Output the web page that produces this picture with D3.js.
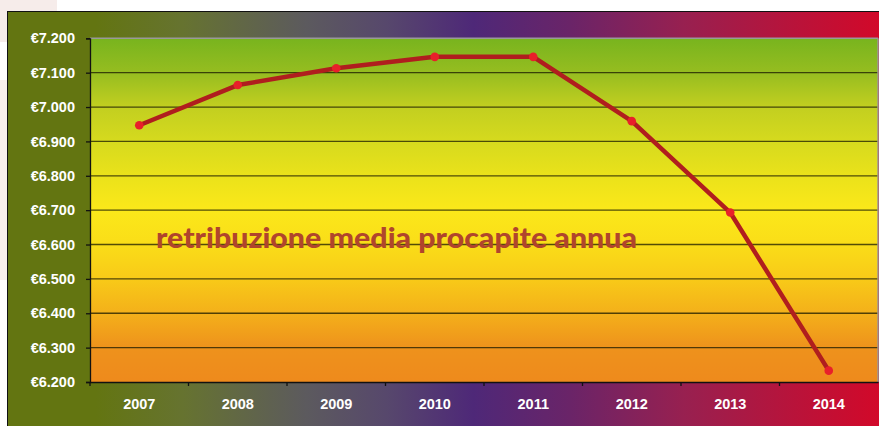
<!DOCTYPE html>
<html><head><meta charset="utf-8">
<script src="https://cdn.jsdelivr.net/npm/d3@7"></script>
<style>html,body{margin:0;padding:0;background:#fff;overflow:hidden}</style>
</head><body>
<script>
const years = ["2007","2008","2009","2010","2011","2012","2013","2014"];
const values = [6947, 7064, 7113, 7146, 7146, 6959, 6693, 6233];
const yTicks = [6200,6300,6400,6500,6600,6700,6800,6900,7000,7100,7200];
const title = "retribuzione media procapite annua";

const W = 879, H = 426;
const svg = d3.select("body").append("svg").attr("width", W).attr("height", H);
const defs = svg.append("defs");

// frame gradient
const fg = defs.append("linearGradient").attr("id","fg").attr("x1","0").attr("x2","1").attr("y1","0").attr("y2","0");
[[0,"#637511"],[0.1,"#637511"],[0.2,"#667330"],[0.34,"#5c5a5e"],[0.43,"#57486c"],[0.53,"#4e2878"],[0.64,"#6a2468"],[0.77,"#982050"],[1,"#d40828"]]
  .forEach(([o,c])=>fg.append("stop").attr("offset",o).attr("stop-color",c));

// faint decoration
svg.append("rect").attr("x",0).attr("y",0).attr("width",57).attr("height",11).attr("fill","#f6ecea");
svg.append("rect").attr("x",0).attr("y",0).attr("width",7).attr("height",42).attr("fill","#f6ecea");
svg.append("rect").attr("x",0).attr("y",80).attr("width",7).attr("height",200).attr("fill","#f8efee");

svg.append("rect").attr("x",7.5).attr("y",11.5).attr("width",W).attr("height",H)
  .attr("fill","url(#fg)").attr("stroke","#111").attr("stroke-width",1);

const m = {l:90, r:878, t:38.3, b:382};
const x = d3.scaleBand().domain(years).range([m.l, m.r]);
const y = d3.scaleLinear().domain([6200,7200]).range([m.b, m.t]);

// plot gradient
const pg = defs.append("linearGradient").attr("id","pg").attr("x1","0").attr("x2","0").attr("y1","0").attr("y2","1");
[[0,"#78b41e"],[0.1,"#96bd20"],[0.2,"#c2cf20"],[0.3,"#d6da1e"],[0.4,"#eae21a"],[0.5,"#fbe81a"],[0.6,"#fadd18"],[0.7,"#f8ca18"],[0.8,"#f4b01a"],[0.9,"#ee921c"],[1,"#ee8a1c"]]
  .forEach(([o,c])=>pg.append("stop").attr("offset",o).attr("stop-color",c));

svg.append("rect").attr("x",m.l).attr("y",m.t).attr("width",m.r-m.l).attr("height",m.b-m.t)
  .attr("fill","url(#pg)");

// grid lines
svg.append("g").selectAll("line").data(yTicks.slice(1,-1)).join("line")
  .attr("x1",m.l).attr("x2",m.r).attr("y1",d=>y(d)).attr("y2",d=>y(d))
  .attr("stroke","#1a1a00").attr("stroke-opacity",0.75).attr("stroke-width",1.3);

// borders
svg.append("line").attr("x1",m.l).attr("x2",m.r).attr("y1",m.t).attr("y2",m.t).attr("stroke","#999").attr("stroke-width",1.5);
svg.append("line").attr("x1",m.r).attr("x2",m.r).attr("y1",m.t).attr("y2",m.b).attr("stroke","#999").attr("stroke-width",1.5);

// y axis
const ya = svg.append("g").attr("transform",`translate(${m.l},0)`)
  .call(d3.axisLeft(y).tickValues(yTicks).tickSize(4).tickPadding(11)
    .tickFormat(d=>"€"+d3.format(",")(d).replace(",",".")));
ya.select(".domain").attr("stroke","#111").attr("stroke-width",1.3);
ya.selectAll(".tick line").attr("stroke","#111").attr("stroke-width",1.3);
ya.selectAll("text").attr("fill","#fff").attr("font-family","Liberation Sans, Arial, sans-serif")
  .attr("font-weight","bold").attr("font-size",14.5);

// x axis
const xa = svg.append("g").attr("transform",`translate(0,${m.b})`)
  .call(d3.axisBottom(x).tickSize(0).tickPadding(17));
xa.select(".domain").attr("stroke","#111").attr("stroke-width",1.3);
xa.selectAll("text").attr("fill","#fff").attr("font-family","Liberation Sans, Arial, sans-serif")
  .attr("font-weight","bold").attr("font-size",14.5);
// band boundary ticks
xa.append("g").selectAll("line").data(years).join("line")
  .attr("x1",d=>x(d)).attr("x2",d=>x(d)).attr("y1",0).attr("y2",4)
  .attr("stroke","#111").attr("stroke-width",1.3);

// line
const cx = d=>x(d)+x.bandwidth()/2;
svg.append("path").datum(values.map((v,i)=>[years[i],v]))
  .attr("d", d3.line().x(d=>cx(d[0])).y(d=>y(d[1])))
  .attr("fill","none").attr("stroke","#b01e1e").attr("stroke-width",4.5).attr("stroke-linejoin","round");
svg.append("g").selectAll("circle").data(values).join("circle")
  .attr("cx",(d,i)=>cx(years[i])).attr("cy",d=>y(d)).attr("r",4.3).attr("fill","#e8202a");

// title
svg.append("text").attr("x",156).attr("y",248).text(title)
  .attr("font-family","Lato, 'Open Sans', sans-serif").attr("font-weight",900)
  .attr("font-size",28).attr("fill","#b0452c")
  .attr("textLength",481).attr("lengthAdjust","spacingAndGlyphs");
</script>
</body></html>
